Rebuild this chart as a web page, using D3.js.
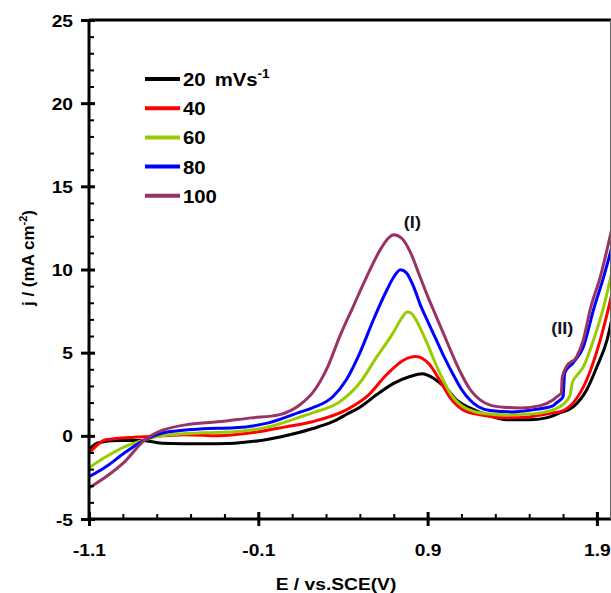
<!DOCTYPE html>
<html>
<head>
<meta charset="utf-8">
<script src="https://cdn.jsdelivr.net/npm/d3@7"></script>
<style>
  html, body { margin: 0; padding: 0; background: #fff; }
  svg { display: block; font-family: Arial, "Liberation Sans", sans-serif; }
</style>
</head>
<body>
<svg id="chart" width="611" height="593"></svg>
<script>
// Cyclic voltammograms at five scan rates: potential E (V vs. SCE) and current density j (mA cm^-2)
const scanRates = ["20", "40", "60", "80", "100"];
const seriesColors = ["#000000", "#ff0000", "#99cc00", "#0000ff", "#993366"];

const e20 = [-1.10,-1.05,-0.93,-0.79,-0.67,-0.43,-0.24,-0.04,0.14,0.26,0.36,0.42,0.50,0.60,0.70,0.80,0.87,0.91,0.97,1.02,1.07,1.15,1.25,1.37,1.50,1.60,1.68,1.76,1.84,1.90,1.96,2.00];
const j20 = [-0.85,-0.43,-0.28,-0.28,-0.44,-0.48,-0.44,-0.20,0.20,0.56,0.95,1.28,1.72,2.48,3.15,3.58,3.73,3.60,3.20,2.77,2.16,1.68,1.26,0.96,0.96,1.08,1.38,1.74,2.77,4.15,5.77,7.6];

const e40 = [-1.10,-1.00,-0.83,-0.69,-0.53,-0.34,-0.14,0.06,0.22,0.42,0.54,0.66,0.75,0.80,0.83,0.87,0.91,0.97,1.03,1.11,1.21,1.37,1.50,1.64,1.68,1.76,1.84,1.92,2.00];
const j40 = [-1.05,-0.24,-0.08,-0.02,0.06,0.00,0.18,0.54,0.85,1.56,2.35,3.70,4.50,4.73,4.77,4.65,4.30,3.37,2.35,1.56,1.26,1.08,1.14,1.38,1.44,1.98,3.37,5.77,9.0];

const e60 = [-1.10,-1.00,-0.89,-0.77,-0.63,-0.43,-0.24,-0.04,0.15,0.22,0.38,0.50,0.60,0.70,0.745,0.78,0.80,0.83,0.86,0.90,0.94,0.98,1.02,1.06,1.11,1.17,1.25,1.37,1.52,1.64,1.68,1.74,1.755,1.78,1.82,1.88,1.94,2.00];
const j60 = [-1.92,-1.26,-0.66,-0.24,0.06,0.18,0.24,0.54,1.14,1.38,2.04,3.19,4.75,6.25,7.05,7.45,7.40,7.00,6.40,5.50,4.50,3.60,2.80,2.20,1.75,1.48,1.33,1.26,1.32,1.56,1.74,2.40,3.20,3.60,4.15,5.77,7.76,10.4];

const e80 = [-1.10,-1.00,-0.89,-0.77,-0.63,-0.43,-0.24,-0.04,0.15,0.22,0.34,0.42,0.50,0.58,0.66,0.70,0.74,0.775,0.82,0.86,0.90,0.95,1.00,1.05,1.10,1.15,1.20,1.27,1.40,1.52,1.64,1.66,1.70,1.71,1.76,1.82,1.88,1.94,2.00];
const j80 = [-2.46,-1.86,-1.02,-0.24,0.24,0.42,0.48,0.78,1.44,1.68,2.35,3.37,4.99,6.98,8.78,9.55,9.98,9.80,8.90,7.80,6.90,5.80,4.70,3.70,2.80,2.15,1.75,1.52,1.44,1.56,1.80,1.98,2.35,3.79,4.39,5.35,7.58,9.56,11.8];

const e100 = [-1.10,-1.00,-0.89,-0.77,-0.69,-0.53,-0.34,-0.14,0.02,0.15,0.22,0.31,0.38,0.46,0.54,0.62,0.665,0.70,0.75,0.80,0.85,0.90,0.95,1.00,1.05,1.10,1.15,1.21,1.27,1.35,1.45,1.56,1.64,1.67,1.69,1.695,1.72,1.78,1.82,1.86,1.92,2.00];
const j100 = [-3.13,-2.46,-1.56,-0.24,0.24,0.66,0.84,1.08,1.26,1.90,2.58,4.15,5.95,7.76,9.56,11.18,11.85,12.09,11.85,11.00,9.70,8.40,7.20,6.00,4.80,3.70,2.80,2.16,1.85,1.72,1.68,1.80,2.16,2.40,2.58,3.50,4.15,4.75,5.77,7.58,9.56,13.0];

const xMajorTicks = [-1.1, -0.1, 0.9, 1.9];
const xTickLabels = ["-1.1", "-0.1", "0.9", "1.9"];
const yMajorTicks = [-5, 0, 5, 10, 15, 20, 25];
const yTickLabels = ["-5", "0", "5", "10", "15", "20", "25"];
const peakLabels = ["(I)", "(II)"];
const peakLabelPos = [[0.81, 12.5], [1.695, 6.1]];

const potentials = [e20, e40, e60, e80, e100];
const currents = [j20, j40, j60, j80, j100];

const svg = d3.select("#chart");
const plotLeft = 89, plotTop = 20, plotBottom = 519;
const textStretch = 1.13;   // lettering is set slightly wide

const x = d3.scaleLinear().domain([-1.1, 2.0]).range([plotLeft, plotLeft + 3.1 * 169.3]);
const y = d3.scaleLinear().domain([-5, 25]).range([plotBottom, plotTop]);

// Move a text's anchor point into a transform so it can be widened about that point
function widen(sel) {
  sel.each(function () {
    const t = d3.select(this);
    const ax = +(t.attr("x") || 0), ay = +(t.attr("y") || 0);
    t.attr("x", 0).attr("y", 0)
      .attr("transform", `translate(${ax},${ay}) scale(${textStretch},1)`);
  });
}

svg.append("defs").append("clipPath").attr("id", "plotClip")
  .append("rect").attr("x", plotLeft).attr("y", plotTop)
  .attr("width", 611 - plotLeft).attr("height", plotBottom - plotTop);

// Curves
const line = d3.line().x(d => x(d[0])).y(d => y(d[1])).curve(d3.curveMonotoneX);
const curves = svg.append("g").attr("clip-path", "url(#plotClip)");
potentials.forEach((es, i) => {
  const pts = es.map((e, k) => [e, currents[i][k]]);
  curves.append("path")
    .datum(pts)
    .attr("d", line)
    .attr("fill", "none")
    .attr("stroke", seriesColors[i])
    .attr("stroke-width", 3)
    .attr("stroke-linejoin", "round");
});

// Minor ticks (inside the plot)
const xMinor = d3.range(-1.1, 2.0, 0.2).map(v => +v.toFixed(2));
svg.append("g")
  .attr("transform", `translate(0,${plotBottom})`)
  .call(d3.axisBottom(x).tickValues(xMinor).tickSize(-5).tickFormat(""))
  .call(g => g.select(".domain").remove())
  .call(g => g.selectAll("line").attr("stroke", "#000").attr("stroke-width", 2));

const yMinor = d3.range(-5, 26, 1);
svg.append("g")
  .attr("transform", `translate(${plotLeft},0)`)
  .call(d3.axisLeft(y).tickValues(yMinor).tickSize(-5).tickFormat(""))
  .call(g => g.select(".domain").remove())
  .call(g => g.selectAll("line").attr("stroke", "#000").attr("stroke-width", 2));

// Major axes
const xAxis = svg.append("g")
  .attr("transform", `translate(0,${plotBottom})`)
  .call(d3.axisBottom(x).tickValues(xMajorTicks).tickSize(6).tickFormat((d, i) => xTickLabels[i]));
xAxis.select(".domain").attr("d", `M${plotLeft},0H611`).attr("stroke", "#000").attr("stroke-width", 3);
xAxis.selectAll(".tick line").attr("y1", -7).attr("y2", 7).attr("stroke", "#000").attr("stroke-width", 3);
xAxis.selectAll(".tick text")
  .attr("y", 37).attr("dy", 0)
  .attr("font-size", 17).attr("font-weight", "bold").attr("fill", "#000")
  .attr("font-family", "Arial, 'Liberation Sans', sans-serif")
  .call(widen);

const yAxis = svg.append("g")
  .attr("transform", `translate(${plotLeft},0)`)
  .call(d3.axisLeft(y).tickValues(yMajorTicks).tickSize(6).tickFormat((d, i) => yTickLabels[i]));
yAxis.select(".domain").attr("d", `M0,${plotBottom}V${plotTop}`).attr("stroke", "#000").attr("stroke-width", 3);
yAxis.selectAll(".tick line").attr("x1", -8).attr("x2", 6).attr("stroke", "#000").attr("stroke-width", 3);
yAxis.selectAll(".tick text")
  .attr("x", -16).attr("dy", "0.36em")
  .attr("font-size", 17).attr("font-weight", "bold").attr("fill", "#000")
  .attr("font-family", "Arial, 'Liberation Sans', sans-serif")
  .call(widen);

// Frame: top edge and right edge
svg.append("line").attr("x1", plotLeft).attr("x2", 611).attr("y1", plotTop).attr("y2", plotTop)
  .attr("stroke", "#000").attr("stroke-width", 3);
svg.append("line").attr("x1", 610.5).attr("x2", 610.5).attr("y1", plotTop).attr("y2", plotBottom)
  .attr("stroke", "#666").attr("stroke-width", 1);

// Axis titles
svg.append("text")
  .attr("x", 336).attr("y", 590)
  .attr("text-anchor", "middle")
  .attr("font-size", 17).attr("font-weight", "bold")
  .text("E / vs.SCE(V)")
  .call(widen);

const yTitle = svg.append("text")
  .attr("transform", "translate(34,258) rotate(-90)")
  .attr("text-anchor", "middle")
  .attr("font-size", 17).attr("font-weight", "bold");
yTitle.append("tspan").text("j / (mA cm");
yTitle.append("tspan").attr("dy", -7).attr("font-size", 11).text("-2");
yTitle.append("tspan").attr("dy", 7).text(")");

// Peak labels
peakLabels.forEach((t, i) => {
  svg.append("text")
    .attr("x", x(peakLabelPos[i][0])).attr("y", y(peakLabelPos[i][1]))
    .attr("text-anchor", "middle")
    .attr("font-size", 16).attr("font-weight", "bold").attr("fill", "#111122")
    .text(t)
    .call(widen);
});

// Legend
const legend = svg.append("g").attr("transform", "translate(145,79)");
scanRates.forEach((r, i) => {
  const row = legend.append("g").attr("transform", `translate(0,${i * 29.2})`);
  row.append("line").attr("x1", 0).attr("x2", 35).attr("y1", 0).attr("y2", 0)
    .attr("stroke", seriesColors[i]).attr("stroke-width", 4);
  const t = row.append("text").attr("x", 38).attr("y", 7)
    .attr("font-size", 18).attr("font-weight", "bold").attr("fill", "#000");
  t.append("tspan").text(r);
  if (i === 0) {
    t.append("tspan").attr("dx", 8).text("mVs");
    t.append("tspan").attr("dy", -8).attr("font-size", 12).text("-1");
  }
  t.call(widen);
});
</script>
</body>
</html>
